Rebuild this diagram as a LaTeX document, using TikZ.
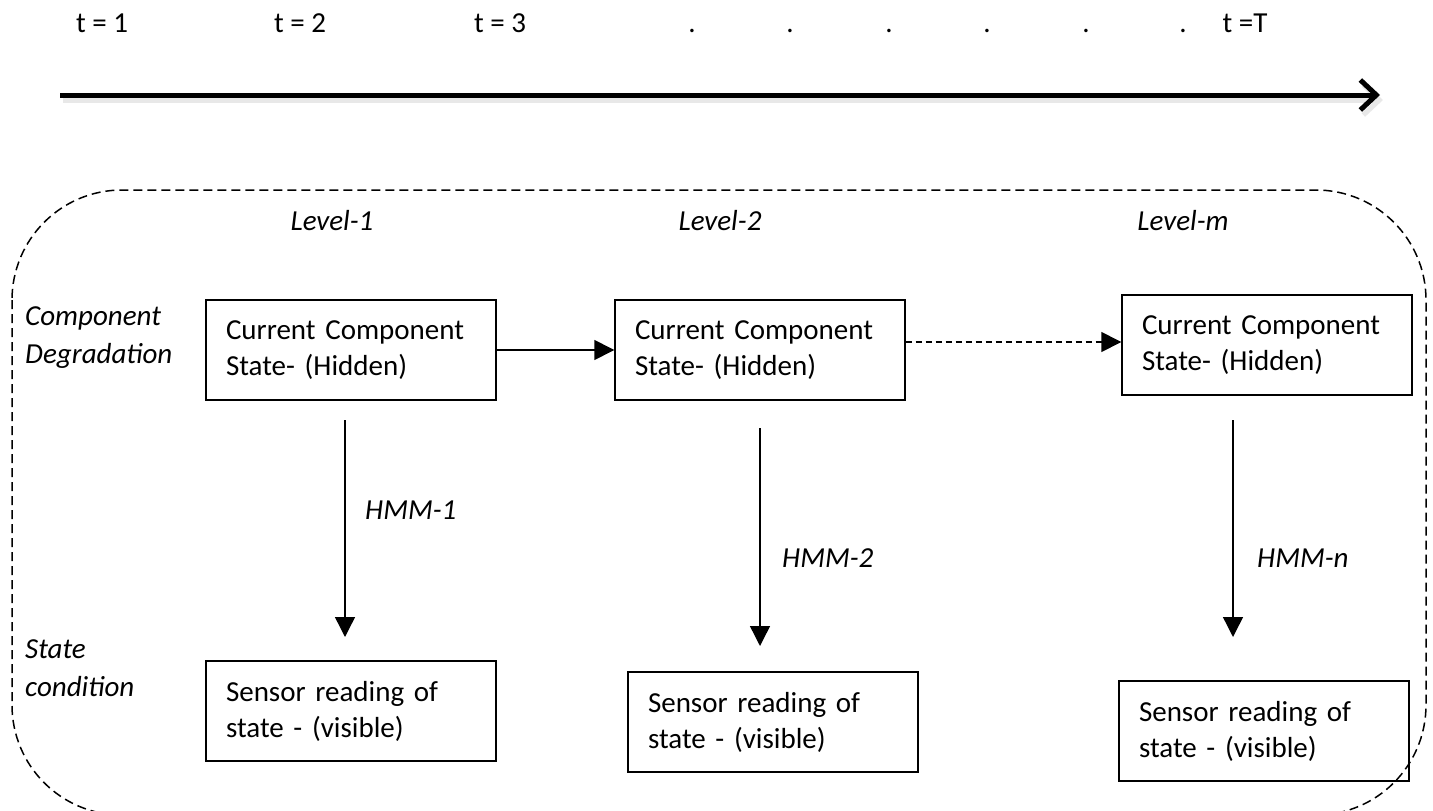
\documentclass[tikz,border=0pt]{standalone}
\usepackage{fontspec}
\setmainfont{Carlito}
\usetikzlibrary{arrows.meta}
\begin{document}
\begin{tikzpicture}[x=1pt,y=-1pt,
  every node/.style={font=\fontsize{29}{36}\selectfont, inner sep=0pt},
  tl/.style={anchor=base},
  box/.style={draw, line width=1.4pt, text width=250pt, inner xsep=20pt, minimum height=100pt, align=left},
  lbl/.style={font=\fontsize{29}{36}\selectfont\itshape},
  side/.style={font=\fontsize{29}{38}\selectfont\itshape, anchor=north west, align=left},
  flow/.style={line width=1.4pt, -{Triangle[length=20pt,width=20pt]}},
  frame/.style={line width=1.5pt, dash pattern=on 9pt off 5pt, rounded corners=110pt}]
\useasboundingbox (0,0) rectangle (1433,811);
% time axis
\node[tl] (t1) at (102,32) {t = 1};
\node[tl] (t2) at (300,32) {t = 2};
\node[tl] (t3) at (500,32) {t = 3};
\node[tl] (d1) at (692,32) {.};
\node[tl] (d2) at (790,32) {.};
\node[tl] (d3) at (889,32) {.};
\node[tl] (d4) at (987,32) {.};
\node[tl] (d5) at (1086,32) {.};
\node[tl] (d6) at (1183,32) {.};
\node[tl] (tT) at (1245,32) {t =T};
\coordinate (ta) at (60,95);
\coordinate (tb) at (1380,95);
\draw[line width=5pt, gray!18, -{Straight Barb[length=16pt,width=30pt]}] ([xshift=3pt,yshift=-5pt]ta) -- ([xshift=3pt,yshift=-5pt]tb);
\draw[line width=5pt, -{Straight Barb[length=16pt,width=30pt]}] (ta) -- (tb);
% frame
\draw[frame] (12,190) rectangle (1426,815);
% labels
\node[lbl] (lv1) at (332,221) {Level-1};
\node[lbl] (lv2) at (720,221) {Level-2};
\node[lbl] (lvm) at (1183,221) {Level-m};
\node[side] (cd) at (25,306) {Component\\Degradation};
\node[side] (sc) at (25,640) {State\\condition};
% hidden state boxes
\node[box] (c1) at (351,350) {Current Component\\State- (Hidden)};
\node[box] (c2) at (760,350) {Current Component\\State- (Hidden)};
\node[box] (c3) at (1267,345) {Current Component\\State- (Hidden)};
\draw[flow] (c1.east) -- (c1.east -| c2.west);
\draw[flow, dash pattern=on 6pt off 4pt] (c2.east |- 0,342) -- (c3.west |- 0,342);
% sensor boxes
\node[box] (s1) at (351,711) {Sensor reading of\\state - (visible)};
\node[box] (s2) at (773,722) {Sensor reading of\\state - (visible)};
\node[box] (s3) at (1264,731) {Sensor reading of\\state - (visible)};
% emission arrows
\coordinate (a1) at (345,420); \coordinate (b1) at (345,637);
\coordinate (a2) at (760,428); \coordinate (b2) at (760,646);
\coordinate (a3) at (1233,420); \coordinate (b3) at (1233,637);
\draw[flow] (a1) -- (b1);
\draw[flow] (a2) -- (b2);
\draw[flow] (a3) -- (b3);
\node[lbl, anchor=west] (h1) at (365,510) {HMM-1};
\node[lbl, anchor=west] (h2) at (782,558) {HMM-2};
\node[lbl, anchor=west] (h3) at (1257,558) {HMM-n};
\end{tikzpicture}
\end{document}
